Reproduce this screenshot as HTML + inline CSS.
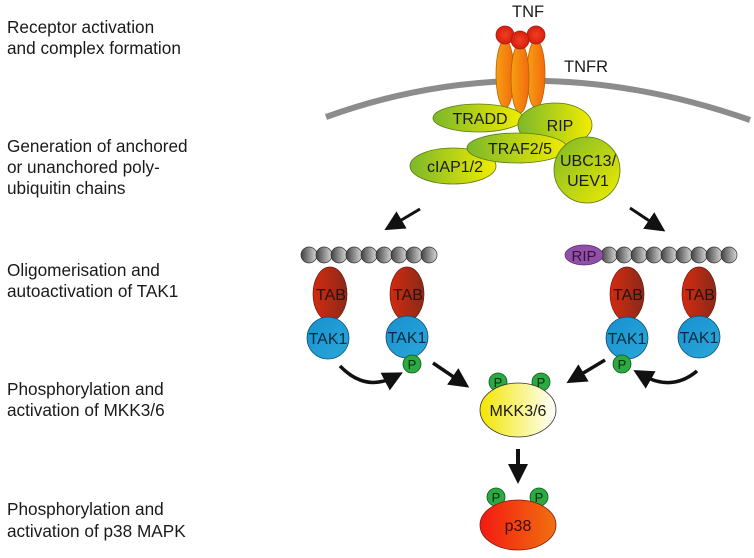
<!DOCTYPE html>
<html><head><style>
html,body{margin:0;padding:0;background:#fff;}
svg{display:block;}
text{font-family:"Liberation Sans",Arial,sans-serif;}
</style></head><body>
<svg width="754" height="558" viewBox="0 0 754 558" xmlns="http://www.w3.org/2000/svg">
<defs>
<linearGradient id="gy" x1="0" y1="0" x2="1" y2="0"><stop offset="0" stop-color="#7cb82a"/><stop offset="1" stop-color="#f2ec00"/></linearGradient>
<linearGradient id="gy2" x1="0" y1="0" x2="1" y2="1"><stop offset="0" stop-color="#7cb82a"/><stop offset="1" stop-color="#f2ec00"/></linearGradient>
<linearGradient id="gor" x1="0" y1="0" x2="1" y2="0"><stop offset="0" stop-color="#f7a010"/><stop offset="1" stop-color="#f26a10"/></linearGradient>
<radialGradient id="gred"><stop offset="0" stop-color="#f04020"/><stop offset="1" stop-color="#d81e10"/></radialGradient>
<linearGradient id="gtab" x1="0" y1="0" x2="1" y2="0"><stop offset="0" stop-color="#d42a10"/><stop offset="1" stop-color="#8a2a18"/></linearGradient>
<linearGradient id="gtak" x1="0" y1="0" x2="1" y2="1"><stop offset="0" stop-color="#1890d0"/><stop offset="1" stop-color="#2aa8d8"/></linearGradient>
<linearGradient id="gbead" x1="0" y1="0" x2="1" y2="0"><stop offset="0" stop-color="#404040"/><stop offset="1" stop-color="#d8d8d8"/></linearGradient>
<linearGradient id="gmkk" x1="0" y1="0" x2="1" y2="0"><stop offset="0" stop-color="#f2e600"/><stop offset="1" stop-color="#ffffff"/></linearGradient>
<linearGradient id="gp38" x1="0" y1="0" x2="1" y2="0"><stop offset="0" stop-color="#f21a10"/><stop offset="1" stop-color="#f27010"/></linearGradient>
<marker id="ah2" markerWidth="20" markerHeight="20" refX="10" refY="10" orient="auto" markerUnits="userSpaceOnUse"><path d="M0,0 L20,10 L0,20 Z" fill="#111"/></marker>
</defs>

<g font-size="17.2" fill="#1a1a1a">
<text x="7" y="33">Receptor activation</text>
<text x="7" y="54">and complex formation</text>
<text x="7" y="152">Generation of anchored</text>
<text x="7" y="173">or unanchored poly-</text>
<text x="7" y="194">ubiquitin chains</text>
<text x="7" y="276">Oligomerisation and</text>
<text x="7" y="297">autoactivation of TAK1</text>
<text x="7" y="395">Phosphorylation and</text>
<text x="7" y="416">activation of MKK3/6</text>
<text x="7" y="515">Phosphorylation and</text>
<text x="7" y="537">activation of p38 MAPK</text>
</g>

<!-- membrane -->
<path d="M326,117 Q530,43 750,120" stroke="#8c8c8c" stroke-width="6" fill="none"/>
<text x="512" y="17" font-size="16.5" fill="#1a1a1a">TNF</text>
<text x="564" y="72" font-size="16.5" fill="#1a1a1a">TNFR</text>

<!-- receptor -->
<g stroke="#b86000" stroke-width="0.8">
<ellipse cx="505" cy="74" rx="9" ry="34" fill="url(#gor)"/>
<ellipse cx="536" cy="74" rx="9" ry="34" fill="url(#gor)"/>
<ellipse cx="520" cy="78" rx="9" ry="35" fill="url(#gor)"/>
</g>
<g stroke="#a02010" stroke-width="0.8" fill="url(#gred)">
<circle cx="505" cy="35" r="9"/><circle cx="536" cy="35" r="9"/><circle cx="520" cy="40" r="9"/>
</g>

<!-- complex -->
<g stroke="#5a7a10" stroke-width="0.8">
<ellipse cx="478" cy="118" rx="45" ry="14" fill="url(#gy)"/>
<ellipse cx="555" cy="125" rx="37" ry="22" fill="url(#gy)"/>
<ellipse cx="453" cy="166" rx="43" ry="18" fill="url(#gy)"/>
<ellipse cx="517" cy="148" rx="50" ry="15" fill="url(#gy)"/>
<circle cx="587" cy="170" r="33" fill="url(#gy2)"/>
</g>
<g font-size="16" fill="#1a1a1a" text-anchor="middle">
<text x="480" y="124">TRADD</text>
<text x="560" y="131">RIP</text>
<text x="520" y="154">TRAF2/5</text>
<text x="455" y="172">cIAP1/2</text>
<text x="588" y="166">UBC13/</text>
<text x="588" y="186">UEV1</text>
</g>

<!-- branching arrows -->
<line x1="420" y1="209" x2="393" y2="225" stroke="#111" stroke-width="3" marker-end="url(#ah2)"/>
<line x1="630" y1="208" x2="657" y2="226" stroke="#111" stroke-width="3" marker-end="url(#ah2)"/>

<!-- chains -->
<g stroke="#333" stroke-width="0.7" fill="url(#gbead)">
<circle cx="309" cy="255" r="8"/><circle cx="324" cy="255" r="8"/><circle cx="339" cy="255" r="8"/><circle cx="354" cy="255" r="8"/><circle cx="369" cy="255" r="8"/><circle cx="384" cy="255" r="8"/><circle cx="399" cy="255" r="8"/><circle cx="414" cy="255" r="8"/><circle cx="429" cy="255" r="8"/>
<circle cx="609" cy="255" r="8"/><circle cx="624" cy="255" r="8"/><circle cx="639" cy="255" r="8"/><circle cx="654" cy="255" r="8"/><circle cx="669" cy="255" r="8"/><circle cx="684" cy="255" r="8"/><circle cx="699" cy="255" r="8"/><circle cx="714" cy="255" r="8"/><circle cx="729" cy="255" r="8"/>
</g>
<ellipse cx="584" cy="255" rx="19" ry="10" fill="#9050a8" stroke="#5a2a70" stroke-width="0.7"/>
<text x="584" y="261" font-size="15" fill="#3a1040" text-anchor="middle">RIP</text>

<!-- TAB / TAK1 -->
<g stroke="#6a1a10" stroke-width="0.7" fill="url(#gtab)">
<ellipse cx="330" cy="294" rx="17" ry="27"/><ellipse cx="407" cy="294" rx="17" ry="27"/>
<ellipse cx="627" cy="294" rx="17" ry="27"/><ellipse cx="699" cy="294" rx="17" ry="27"/>
</g>
<g stroke="#0a4a70" stroke-width="0.8" fill="url(#gtak)">
<circle cx="328" cy="338" r="21"/><circle cx="407" cy="337" r="21"/>
<circle cx="627" cy="338" r="21"/><circle cx="699" cy="337" r="21"/>
</g>
<g font-size="16" fill="#2a1010" text-anchor="middle">
<text x="331" y="300">TAB</text><text x="408" y="300">TAB</text>
<text x="628" y="300">TAB</text><text x="700" y="300">TAB</text>
</g>
<g font-size="16" fill="#0a2a40" text-anchor="middle">
<text x="328" y="344">TAK1</text><text x="407" y="343">TAK1</text>
<text x="627" y="344">TAK1</text><text x="699" y="343">TAK1</text>
</g>

<!-- P circles -->
<g stroke="#0a5a1a" stroke-width="0.8" fill="#2aaa40">
<circle cx="412" cy="364" r="9"/><circle cx="622" cy="364" r="9"/>
<circle cx="498" cy="382" r="9"/><circle cx="541" cy="382" r="9"/>
<circle cx="496" cy="497" r="9"/><circle cx="539" cy="497" r="9"/>
</g>
<g font-size="13" fill="#0a2a10" text-anchor="middle">
<text x="412" y="369">P</text><text x="622" y="369">P</text>
<text x="498" y="387">P</text><text x="541" y="387">P</text>
<text x="496" y="502">P</text><text x="539" y="502">P</text>
</g>

<!-- MKK / p38 -->
<ellipse cx="518" cy="410" rx="38" ry="27" fill="url(#gmkk)" stroke="#333" stroke-width="0.8"/>
<text x="518" y="416" font-size="16" fill="#1a1a1a" text-anchor="middle">MKK3/6</text>
<ellipse cx="518" cy="525" rx="38" ry="25" fill="url(#gp38)" stroke="#7a1a10" stroke-width="0.8"/>
<text x="518" y="531" font-size="16" fill="#3a0a05" text-anchor="middle">p38</text>

<!-- arrows -->
<path d="M340,366 Q365,392 394,377" stroke="#111" stroke-width="3.5" fill="none" marker-end="url(#ah2)"/>
<path d="M697,371 Q672,392 642,375" stroke="#111" stroke-width="3.5" fill="none" marker-end="url(#ah2)"/>
<line x1="433" y1="363" x2="461" y2="382" stroke="#111" stroke-width="3.5" marker-end="url(#ah2)"/>
<line x1="605" y1="360" x2="575" y2="378" stroke="#111" stroke-width="3.5" marker-end="url(#ah2)"/>
<line x1="518" y1="449" x2="518" y2="474" stroke="#111" stroke-width="4" marker-end="url(#ah2)"/>
</svg>
</body></html>
